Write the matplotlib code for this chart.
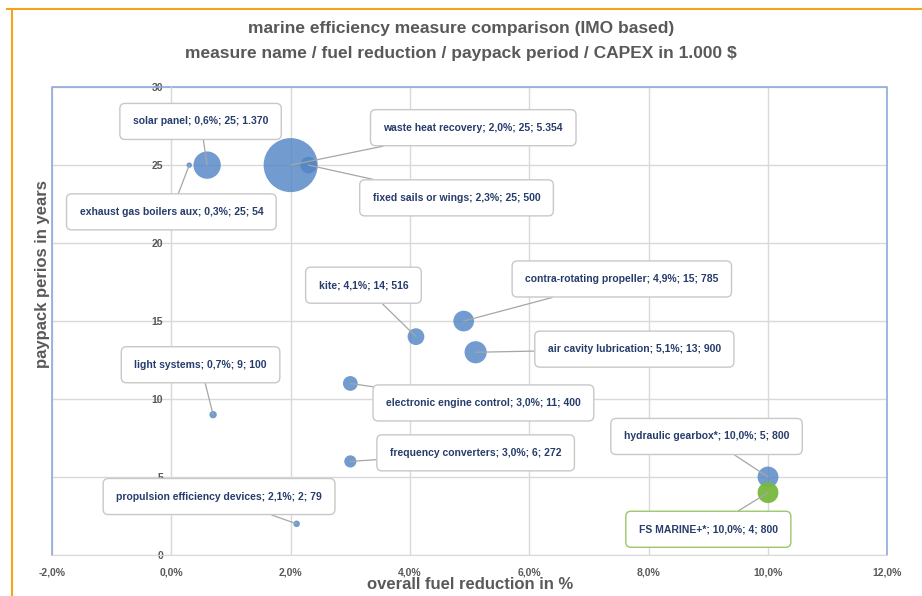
import matplotlib
matplotlib.use("Agg")
import matplotlib.pyplot as plt
from matplotlib.ticker import FuncFormatter, MultipleLocator

plt.rcParams["font.family"] = ["Liberation Sans Narrow", "Liberation Sans", "DejaVu Sans"]

# measure data: fuel reduction in %, payback period in years, CAPEX in 1.000 $
names = ['solar panel', 'exhaust gas boilers aux', 'waste heat recovery', 'fixed sails or wings',
         'kite', 'contra-rotating propeller', 'air cavity lubrication', 'light systems',
         'electronic engine control', 'frequency converters', 'propulsion efficiency devices',
         'hydraulic gearbox*', 'FS MARINE+*']
fuel = [0.6, 0.3, 2.0, 2.3, 4.1, 4.9, 5.1, 0.7, 3.0, 3.0, 2.1, 10.0, 10.0]
years = [25, 25, 25, 25, 14, 15, 13, 9, 11, 6, 2, 5, 4]
capex = [1370, 54, 5354, 500, 516, 785, 900, 100, 400, 272, 79, 800, 800]

# where the callout boxes sit (data coords)
label_pos = [(0.49, 27.8), (0.0, 22.0), (5.06, 27.4), (4.78, 22.9),
             (3.22, 17.3), (7.55, 17.7), (7.76, 13.2), (0.49, 12.2),
             (5.23, 9.75), (5.10, 6.55), (0.80, 3.75), (8.97, 7.6), (9.0, 1.65)]

blue = '#4F83C4'
green = '#78B83F'
grid_c = '#D9D9D9'
frame_blue = '#8EA9DB'
txt_grey = '#595959'
lbl_c = '#263C6B'

fig = plt.figure(figsize=(9.22, 5.96), dpi=100)
ax = fig.add_axes([0.0564, 0.0688, 0.906, 0.785])

colors = [green if n.startswith('FS') else blue for n in names]
sizes = [c * 0.283 for c in capex]
for i in range(len(names)):
    ax.scatter(fuel[i], years[i], s=sizes[i], color=colors[i], alpha=0.8 if colors[i] == blue else 0.95,
               edgecolors='none', zorder=3 + i * 0.01)

for i, n in enumerate(names):
    f = ('%.1f' % fuel[i]).replace('.', ',')
    cx = '{:,}'.format(capex[i]).replace(',', '.')
    label = '%s; %s%%; %d; %s' % (n, f, years[i], cx)
    ec = '#9BC76B' if n.startswith('FS') else '#C8C8C8'
    ax.annotate(label, xy=(fuel[i], years[i]), xytext=label_pos[i], textcoords='data',
                ha='center', va='center', fontsize=7.5, fontweight='bold', color=lbl_c,
                bbox=dict(boxstyle='round,pad=1.25,rounding_size=0.5', fc='white', ec=ec, lw=1),
                arrowprops=dict(arrowstyle='-', color='#A6A6A6', lw=0.9, shrinkA=0, shrinkB=0),
                zorder=5)

ax.set_xlim(-2, 12)
ax.set_ylim(0, 30)
ax.xaxis.set_major_locator(MultipleLocator(2))
ax.yaxis.set_major_locator(MultipleLocator(5))
ax.xaxis.set_major_formatter(FuncFormatter(lambda v, p: ('%.1f%%' % v).replace('.', ',')))
ax.grid(True, color=grid_c, lw=1, zorder=0)
ax.set_axisbelow(True)

# y axis crosses at 0 %
ax.spines['left'].set_position(('data', 0))
ax.spines['left'].set_color(grid_c)
ax.spines['bottom'].set_color(grid_c)
ax.spines['top'].set_visible(False)
ax.spines['right'].set_visible(False)
ax.plot([0, 0, 1, 1], [0, 1, 1, 0], transform=ax.transAxes, color=frame_blue, lw=1.2, clip_on=False, zorder=1)
ax.tick_params(axis='both', length=0, labelsize=7.5, labelcolor=txt_grey)
ax.tick_params(axis='x', pad=9)
ax.tick_params(axis='y', pad=6)
for t in ax.get_xticklabels() + ax.get_yticklabels():
    t.set_fontweight('bold')

fig.text(0.51, 0.02, 'overall fuel reduction in %', ha='center', va='center',
         fontsize=12, fontweight='bold', color=txt_grey)
fig.text(0.046, 0.54, 'paypack perios in years', rotation=90, ha='center', va='center',
         fontsize=12, fontweight='bold', color=txt_grey)

fig.text(0.5, 0.953, 'marine efficiency measure comparison (IMO based)', ha='center', va='center',
         fontsize=12.5, fontweight='bold', color=txt_grey)
fig.text(0.5, 0.911, 'measure name / fuel reduction / paypack period / CAPEX in 1.000 $', ha='center',
         va='center', fontsize=12.5, fontweight='bold', color=txt_grey)

# orange frame
fig.add_artist(plt.Line2D([0.008, 1.0], [0.985, 0.985], color='#F5A31A', lw=1.5))
fig.add_artist(plt.Line2D([0.013, 0.013], [0.0, 0.985], color='#F5A31A', lw=1.5))

fig.savefig('out.png', dpi=100)
